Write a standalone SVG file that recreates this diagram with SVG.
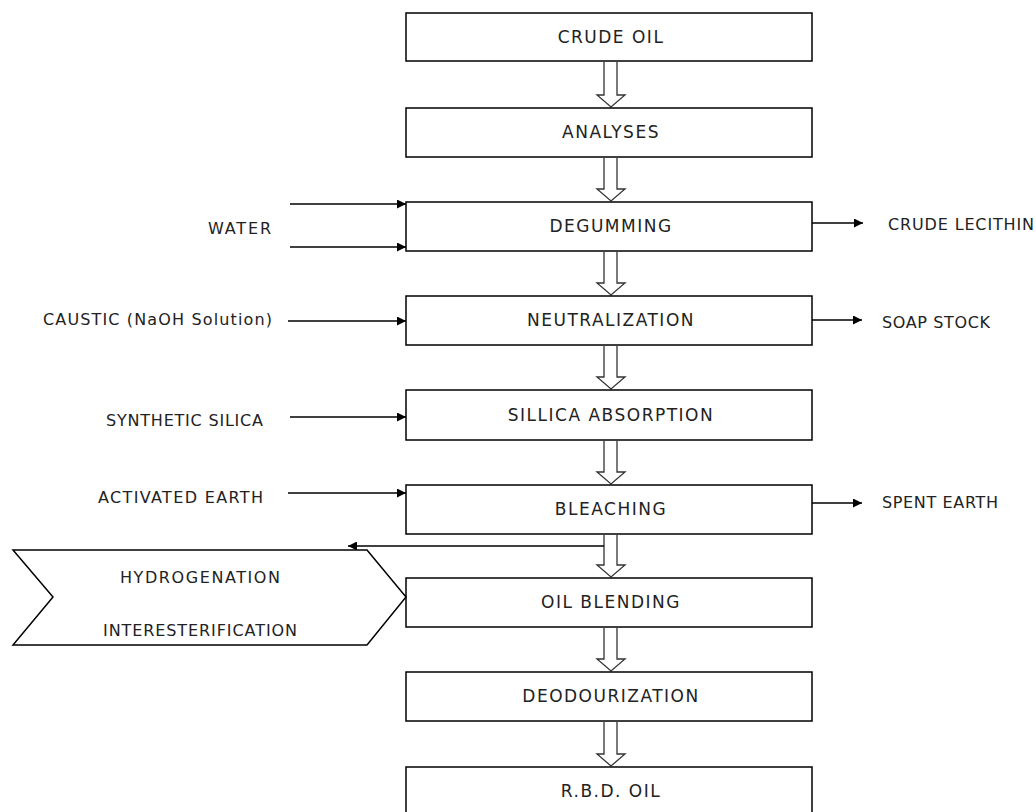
<svg xmlns="http://www.w3.org/2000/svg" width="1036" height="812" viewBox="0 0 1036 812">
<defs>
<style>
.box{fill:#fff;stroke:#000;stroke-width:1.5}
.hol{fill:#fff;stroke:#333;stroke-width:1.3}
.lbl{font-family:"DejaVu Sans",Verdana,sans-serif;font-size:17px;fill:#222;letter-spacing:1.5px;text-anchor:middle}
.side{font-family:"DejaVu Sans",Verdana,sans-serif;font-size:16px;fill:#222}
.con{stroke:#000;stroke-width:1.5;fill:none}
</style>
<marker id="ah" viewBox="0 0 10 10" refX="10" refY="5" markerWidth="12" markerHeight="9" markerUnits="userSpaceOnUse" orient="auto">
<path d="M0,0 L10,5 L0,10 z" fill="#000"/>
</marker>
</defs>
<rect width="1036" height="812" fill="#fff"/>

<g id="connectors">
<path class="hol" d="M604,62 V95 H597 L611,107 L625,95 H617 V62"/>
<path class="hol" d="M604,158 V189 H597 L611,201 L625,189 H617 V158"/>
<path class="hol" d="M604,252 V283 H597 L611,295 L625,283 H617 V252"/>
<path class="hol" d="M604,346 V377 H597 L611,389 L625,377 H617 V346"/>
<path class="hol" d="M604,441 V472 H597 L611,484 L625,472 H617 V441"/>
<path class="hol" d="M604,535 V565 H597 L611,577 L625,565 H617 V535"/>
<path class="hol" d="M604,628 V659 H597 L611,671 L625,659 H617 V628"/>
<path class="hol" d="M604,722 V754 H597 L611,766 L625,754 H617 V722"/>
<line class="con" x1="290" y1="204" x2="406" y2="204" marker-end="url(#ah)"/>
<line class="con" x1="290" y1="247" x2="406" y2="247" marker-end="url(#ah)"/>
<line class="con" x1="288" y1="321" x2="406" y2="321" marker-end="url(#ah)"/>
<line class="con" x1="290" y1="417" x2="406" y2="417" marker-end="url(#ah)"/>
<line class="con" x1="288" y1="493" x2="406" y2="493" marker-end="url(#ah)"/>
<line class="con" x1="812" y1="223" x2="863" y2="223" marker-end="url(#ah)"/>
<line class="con" x1="812" y1="320" x2="862" y2="320" marker-end="url(#ah)"/>
<line class="con" x1="812" y1="503" x2="862" y2="503" marker-end="url(#ah)"/>
<line class="con" x1="604" y1="546" x2="348" y2="546" marker-end="url(#ah)"/>
</g>

<g id="crude-oil"><rect class="box" x="406" y="13" width="406" height="48"/><text class="lbl" x="611" y="43">CRUDE OIL</text></g>
<g id="analyses"><rect class="box" x="406" y="108" width="406" height="49"/><text class="lbl" x="611" y="138">ANALYSES</text></g>
<g id="degumming"><rect class="box" x="406" y="202" width="406" height="49"/><text class="lbl" x="611" y="232">DEGUMMING</text></g>
<g id="neutralization"><rect class="box" x="406" y="296" width="406" height="49"/><text class="lbl" x="611" y="326">NEUTRALIZATION</text></g>
<g id="sillica-absorption"><rect class="box" x="406" y="390" width="406" height="50"/><text class="lbl" x="611" y="421">SILLICA ABSORPTION</text></g>
<g id="bleaching"><rect class="box" x="406" y="485" width="406" height="49"/><text class="lbl" x="611" y="515">BLEACHING</text></g>
<g id="oil-blending"><rect class="box" x="406" y="578" width="406" height="49"/><text class="lbl" x="611" y="608">OIL BLENDING</text></g>
<g id="deodourization"><rect class="box" x="406" y="672" width="406" height="49"/><text class="lbl" x="611" y="702">DEODOURIZATION</text></g>
<g id="rbd-oil"><rect class="box" x="406" y="767" width="406" height="52"/><text class="lbl" x="611" y="797">R.B.D. OIL</text></g>

<g id="hydrogenation">
<polygon class="box" points="13,550 367,550 406,597 367,645 13,645 53,597"/>
<text class="side" x="120" y="583" textLength="160" lengthAdjust="spacing">HYDROGENATION</text>
<text class="side" x="103" y="636" textLength="194" lengthAdjust="spacing">INTERESTERIFICATION</text>
</g>

<g id="water"><text class="side" x="208" y="234" textLength="63" lengthAdjust="spacing">WATER</text></g>
<g id="caustic"><text class="side" x="43" y="325" textLength="229" lengthAdjust="spacing">CAUSTIC (NaOH Solution)</text></g>
<g id="synthetic-silica"><text class="side" x="106" y="426" textLength="157" lengthAdjust="spacing">SYNTHETIC SILICA</text></g>
<g id="activated-earth"><text class="side" x="98" y="503" textLength="165" lengthAdjust="spacing">ACTIVATED EARTH</text></g>
<g id="crude-lecithin"><text class="side" x="888" y="230" textLength="146" lengthAdjust="spacing">CRUDE LECITHIN</text></g>
<g id="soap-stock"><text class="side" x="882" y="328" textLength="108" lengthAdjust="spacing">SOAP STOCK</text></g>
<g id="spent-earth"><text class="side" x="882" y="508" textLength="116" lengthAdjust="spacing">SPENT EARTH</text></g>
</svg>
